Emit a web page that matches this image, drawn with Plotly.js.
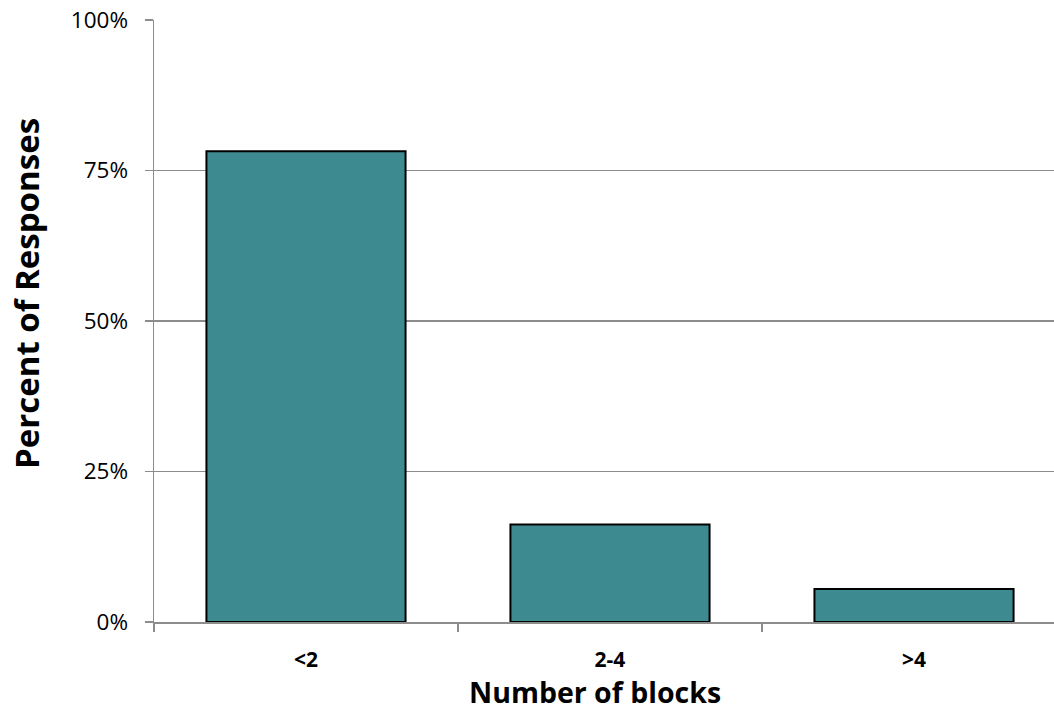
<!DOCTYPE html>
<html>
<head>
<meta charset="utf-8">
<script src="https://cdn.plot.ly/plotly-3.0.1.min.js"></script>
<style>html,body{margin:0;padding:0;background:#fff;overflow:hidden;}</style>
</head>
<body>
<div id="chart" style="width:1054px;height:713px;"></div>
<script>
const categories = ["<2", "2-4", ">4"];
const percentValues = [78.2, 16.2, 5.5];
const yTickValues = [0, 25, 50, 75, 100];
const yTickLabels = ["0%", "25%", "50%", "75%", "100%"];
const xTitle = "Number of blocks";
const yTitle = "Percent of Responses";

const FONT = "'Open Sans', 'Noto Sans', sans-serif";
const GRID = "#8c8c8c";

const trace = {
  type: "bar",
  x: categories,
  y: percentValues,
  marker: { color: "#3d8b91", line: { color: "#000000", width: 2 } },
  hoverinfo: "x+y"
};

const layout = {
  width: 1054,
  height: 713,
  margin: { l: 154, r: 0, t: 20, b: 91 },
  paper_bgcolor: "#ffffff",
  plot_bgcolor: "#ffffff",
  bargap: 0.345,
  showlegend: false,
  font: { family: FONT, color: "#000000" },
  xaxis: {
    type: "category",
    range: [-0.5, 2.4605],
    showgrid: false,
    showline: true,
    linecolor: GRID,
    linewidth: 1.5,
    ticks: "outside",
    tickson: "boundaries",
    ticklen: 8,
    tickcolor: GRID,
    tickwidth: 1.5,
    tickfont: { family: FONT, size: 21, color: "#000000", weight: "bold" },
    ticklabelstandoff: 18,
    zeroline: false
  },
  yaxis: {
    range: [0, 100],
    tickvals: yTickValues,
    ticktext: yTickLabels,
    showgrid: true,
    gridcolor: GRID,
    gridwidth: 1.5,
    showline: true,
    linecolor: GRID,
    linewidth: 1.5,
    ticks: "outside",
    ticklen: 8,
    tickcolor: GRID,
    tickwidth: 1.5,
    tickfont: { family: FONT, size: 22.5, color: "#000000" },
    ticklabelstandoff: 12,
    zeroline: false
  },
  annotations: [
    {
      text: xTitle, xref: "paper", yref: "paper", x: 0.49, y: -0.1163,
      xanchor: "center", yanchor: "middle", showarrow: false,
      font: { family: FONT, size: 28.5, color: "#000000", weight: "bold" }
    },
    {
      text: yTitle, xref: "paper", yref: "paper", x: -0.1411, y: 0.5449,
      xanchor: "center", yanchor: "middle", showarrow: false, textangle: -90,
      font: { family: FONT, size: 33, color: "#000000", weight: "bold" }
    }
  ]
};

Plotly.newPlot("chart", [trace], layout, { displayModeBar: false, staticPlot: true });
</script>
</body>
</html>
